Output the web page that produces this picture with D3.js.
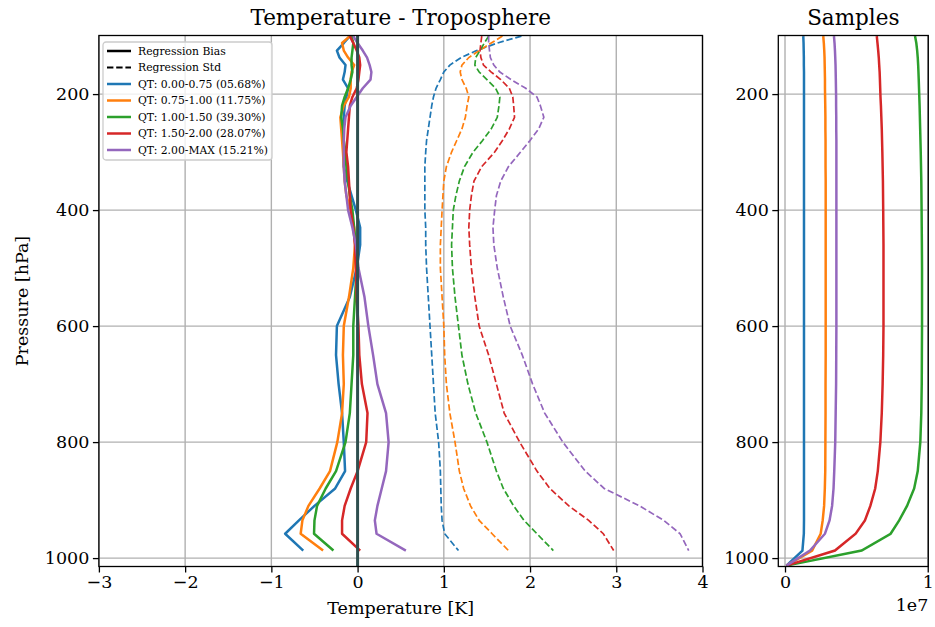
<!DOCTYPE html>
<html>
<head>
<meta charset="utf-8">
<script src="https://cdn.jsdelivr.net/npm/d3@7"></script>
<style>
  body { margin: 0; background: #fff; }
  text { font-family: "DejaVu Serif", serif; fill: #000; }
</style>
</head>
<body>
<div id="chart"></div>
<script>
var w = 935, h = 627;

// pressure levels [hPa]
var levels = [100, 112, 125, 137, 150, 162, 175, 190, 205, 220, 240, 260, 280, 300, 325, 350, 375,
  400, 430, 460, 500, 550, 600, 650, 700, 750, 800, 850, 880, 910, 935, 958, 987];
var sampleLevels = levels.concat([1013]);

var groupLabels = ["QT: 0.00-0.75 (05.68%)", "QT: 0.75-1.00 (11.75%)", "QT: 1.00-1.50 (39.30%)",
  "QT: 1.50-2.00 (28.07%)", "QT: 2.00-MAX (15.21%)"];
var colors = ["#1f77b4", "#ff7f0e", "#2ca02c", "#d62728", "#9467bd"];

var xTicks = [-3, -2, -1, 0, 1, 2, 3, 4];
var pTicks = [200, 400, 600, 800, 1000];
var sTicks = [0, 1];

// regression bias [K]
var bias000_075 = [-0.09, -0.16, -0.24, -0.21, -0.14, -0.15, -0.17, -0.11, -0.13, -0.15, -0.16, -0.16, -0.16, -0.16, -0.16, -0.12, -0.07,
  -0.02, 0.03, 0.03, -0.01, -0.09, -0.24, -0.25, -0.22, -0.18, -0.16, -0.145, -0.26, -0.50, -0.68, -0.84, -0.63];
var bias075_100 = [-0.09, -0.18, -0.16, -0.11, -0.04, -0.07, -0.08, -0.08, -0.10, -0.16, -0.20, -0.19, -0.18, -0.17, -0.16, -0.15, -0.13,
  -0.08, -0.04, -0.03, -0.05, -0.10, -0.16, -0.17, -0.16, -0.18, -0.235, -0.32, -0.44, -0.57, -0.64, -0.66, -0.40];
var bias100_150 = [-0.07, -0.05, -0.06, -0.07, -0.07, -0.06, -0.08, -0.11, -0.15, -0.18, -0.19, -0.17, -0.16, -0.14, -0.13, -0.11, -0.09,
  -0.06, -0.04, -0.02, -0.01, -0.03, -0.05, -0.05, -0.07, -0.09, -0.14, -0.25, -0.37, -0.47, -0.50, -0.505, -0.28];
var bias150_200 = [-0.09, -0.05, -0.01, 0.02, 0.03, 0.02, 0.01, -0.01, -0.06, -0.09, -0.10, -0.11, -0.12, -0.13, -0.11, -0.10, -0.09,
  -0.08, -0.05, -0.03, -0.02, -0.01, 0.01, 0.02, 0.05, 0.115, 0.10, 0.00, -0.08, -0.15, -0.18, -0.18, 0.03];
var bias200_max = [-0.05, 0.00, 0.06, 0.11, 0.14, 0.16, 0.15, 0.06, -0.01, -0.08, -0.14, -0.155, -0.16, -0.16, -0.16, -0.15, -0.13,
  -0.11, -0.06, -0.02, 0.01, 0.08, 0.125, 0.18, 0.23, 0.33, 0.36, 0.33, 0.28, 0.23, 0.20, 0.22, 0.56];

// regression std [K]
var std000_075 = [1.90, 1.62, 1.38, 1.20, 1.07, 1.00, 0.96, 0.91, 0.88, 0.86, 0.84, 0.82, 0.80, 0.79, 0.78, 0.78, 0.78,
  0.78, 0.79, 0.79, 0.80, 0.82, 0.84, 0.86, 0.88, 0.90, 0.94, 0.96, 0.965, 0.97, 0.98, 1.01, 1.17];
var std075_100 = [1.68, 1.55, 1.41, 1.29, 1.21, 1.19, 1.21, 1.26, 1.29, 1.27, 1.25, 1.21, 1.15, 1.09, 1.03, 1.00, 0.99,
  0.98, 0.97, 0.96, 0.96, 0.98, 1.00, 1.01, 1.03, 1.07, 1.13, 1.18, 1.23, 1.31, 1.41, 1.56, 1.75];
var std100_150 = [1.52, 1.47, 1.42, 1.37, 1.36, 1.41, 1.50, 1.60, 1.65, 1.64, 1.62, 1.55, 1.45, 1.34, 1.24, 1.18, 1.14,
  1.11, 1.10, 1.09, 1.10, 1.13, 1.17, 1.21, 1.28, 1.37, 1.50, 1.61, 1.69, 1.81, 1.93, 2.08, 2.27];
var std150_200 = [1.44, 1.43, 1.42, 1.43, 1.46, 1.55, 1.66, 1.76, 1.80, 1.81, 1.82, 1.76, 1.68, 1.59, 1.44, 1.35, 1.32,
  1.30, 1.29, 1.30, 1.32, 1.36, 1.41, 1.52, 1.61, 1.70, 1.88, 2.08, 2.23, 2.45, 2.68, 2.85, 2.97];
var std200_max = [1.52, 1.52, 1.53, 1.54, 1.58, 1.65, 1.78, 1.95, 2.08, 2.12, 2.16, 2.10, 2.00, 1.89, 1.75, 1.66, 1.61,
  1.59, 1.57, 1.58, 1.62, 1.69, 1.77, 1.91, 2.03, 2.17, 2.38, 2.64, 2.86, 3.27, 3.55, 3.74, 3.84];

// samples per level [1e7]
var samp000_075 = [0.128, 0.130, 0.131, 0.132, 0.132, 0.133, 0.133, 0.133, 0.133, 0.133, 0.133, 0.133, 0.133, 0.133, 0.133, 0.133, 0.133,
  0.133, 0.133, 0.133, 0.133, 0.133, 0.133, 0.133, 0.133, 0.133, 0.133, 0.133, 0.133, 0.133, 0.133, 0.132, 0.122, 0.010];
var samp075_100 = [0.268, 0.272, 0.275, 0.277, 0.278, 0.279, 0.280, 0.280, 0.281, 0.282, 0.283, 0.283, 0.284, 0.284, 0.284, 0.285, 0.285,
  0.285, 0.285, 0.285, 0.285, 0.285, 0.285, 0.285, 0.284, 0.284, 0.283, 0.282, 0.279, 0.274, 0.264, 0.250, 0.190, 0.010];
var samp100_150 = [0.911, 0.920, 0.926, 0.930, 0.933, 0.935, 0.937, 0.939, 0.941, 0.943, 0.945, 0.947, 0.949, 0.951, 0.953, 0.955, 0.956,
  0.957, 0.958, 0.959, 0.960, 0.960, 0.960, 0.959, 0.958, 0.955, 0.948, 0.930, 0.905, 0.855, 0.800, 0.740, 0.537, 0.010];
var samp150_200 = [0.643, 0.648, 0.653, 0.657, 0.660, 0.663, 0.665, 0.667, 0.669, 0.672, 0.675, 0.678, 0.680, 0.682, 0.684, 0.686, 0.687,
  0.688, 0.689, 0.690, 0.690, 0.690, 0.690, 0.688, 0.684, 0.678, 0.668, 0.650, 0.632, 0.598, 0.560, 0.495, 0.350, 0.010];
var samp200_max = [0.343, 0.347, 0.350, 0.352, 0.354, 0.355, 0.356, 0.357, 0.358, 0.358, 0.359, 0.359, 0.360, 0.360, 0.360, 0.360, 0.360,
  0.360, 0.360, 0.360, 0.360, 0.360, 0.360, 0.359, 0.358, 0.355, 0.352, 0.345, 0.340, 0.330, 0.312, 0.280, 0.175, 0.010];

var biasSeries = [bias000_075, bias075_100, bias100_150, bias150_200, bias200_max];
var stdSeries = [std000_075, std075_100, std100_150, std150_200, std200_max];
var sampSeries = [samp000_075, samp075_100, samp100_150, samp150_200, samp200_max];

// panel boxes
var L = {x0: 98.9, x1: 702.5}, R = {x0: 778.3, x1: 928.3};
var plotTop = 35.5, plotBottom = 566.5;
var dash = "6.4,2.8";

var xScale = d3.scaleLinear().domain([-3, 4]).range([L.x0, L.x1]);
var yScale = d3.scaleLinear().domain([99, 1014.5]).range([plotTop, plotBottom]);
var sScale = d3.scaleLinear().domain([-0.047, 1.004]).range([R.x0, R.x1]);

var svg = d3.select("#chart").append("svg")
  .attr("width", w)
  .attr("height", h);

var defs = svg.append("defs");
defs.append("clipPath").attr("id", "clipL").append("rect")
  .attr("x", L.x0).attr("y", plotTop).attr("width", L.x1 - L.x0).attr("height", plotBottom - plotTop);
defs.append("clipPath").attr("id", "clipR").append("rect")
  .attr("x", R.x0).attr("y", plotTop).attr("width", R.x1 - R.x0).attr("height", plotBottom - plotTop);

var minus = function(d) { return String(d).replace("-", "\u2212"); };
var intFmt = d3.format("d");

function grid(xs, xvals, box) {
  var g = svg.append("g").attr("stroke", "#b0b0b0").attr("stroke-width", 1.4);
  g.selectAll(".gx").data(xvals).enter().append("line")
    .attr("x1", function(d) { return xs(d); }).attr("x2", function(d) { return xs(d); })
    .attr("y1", plotTop).attr("y2", plotBottom);
  g.selectAll(".gy").data(pTicks).enter().append("line")
    .attr("x1", box.x0).attr("x2", box.x1)
    .attr("y1", function(d) { return yScale(d); }).attr("y2", function(d) { return yScale(d); });
}
grid(xScale, xTicks, L);
grid(sScale, sTicks, R);

var line = d3.line()
  .x(function(d) { return xScale(d[0]); })
  .y(function(d) { return yScale(d[1]); });

var sLine = d3.line()
  .x(function(d) { return sScale(d[0]); })
  .y(function(d) { return yScale(d[1]); });

var plotL = svg.append("g").attr("clip-path", "url(#clipL)");
for (var i = 0; i < 5; i++) {
  plotL.append("path")
    .datum(biasSeries[i].map(function(v, k) { return [v, levels[k]]; }))
    .attr("d", line)
    .attr("fill", "none")
    .attr("stroke", colors[i])
    .attr("stroke-width", 2.5)
    .attr("stroke-linejoin", "round");
  plotL.append("path")
    .datum(stdSeries[i].map(function(v, k) { return [v, levels[k]]; }))
    .attr("d", line)
    .attr("fill", "none")
    .attr("stroke", colors[i])
    .attr("stroke-width", 1.7)
    .attr("stroke-dasharray", dash);
}
// zero line
plotL.append("line")
  .attr("x1", xScale(0)).attr("x2", xScale(0))
  .attr("y1", plotTop).attr("y2", plotBottom)
  .attr("stroke", "#2f4f4f")
  .attr("stroke-width", 3);

var plotR = svg.append("g").attr("clip-path", "url(#clipR)");
for (var j = 0; j < 5; j++) {
  plotR.append("path")
    .datum(sampSeries[j].map(function(v, k) { return [v, sampleLevels[k]]; }))
    .attr("d", sLine)
    .attr("fill", "none")
    .attr("stroke", colors[j])
    .attr("stroke-width", 2.5);
}

// axes
function styleAxis(g) {
  g.select(".domain").remove();
  g.selectAll(".tick line").attr("stroke", "#000").attr("stroke-width", 1.3);
  g.selectAll(".tick text").attr("font-size", 17.5).attr("font-family", "DejaVu Serif").attr("fill", "#000");
}

svg.append("g")
  .attr("transform", "translate(0," + plotBottom + ")")
  .call(d3.axisBottom(xScale).tickValues(xTicks).tickSize(6).tickPadding(3.5).tickFormat(minus))
  .call(styleAxis);
svg.append("g")
  .attr("transform", "translate(" + L.x0 + ",0)")
  .call(d3.axisLeft(yScale).tickValues(pTicks).tickSize(6).tickPadding(3.5).tickFormat(intFmt))
  .call(styleAxis);
svg.append("g")
  .attr("transform", "translate(0," + plotBottom + ")")
  .call(d3.axisBottom(sScale).tickValues(sTicks).tickSize(6).tickPadding(3.5).tickFormat(intFmt))
  .call(styleAxis);
svg.append("g")
  .attr("transform", "translate(" + R.x0 + ",0)")
  .call(d3.axisLeft(yScale).tickValues(pTicks).tickSize(6).tickPadding(3.5).tickFormat(intFmt))
  .call(styleAxis);

// frames
[L, R].forEach(function(b) {
  svg.append("rect")
    .attr("x", b.x0).attr("y", plotTop)
    .attr("width", b.x1 - b.x0).attr("height", plotBottom - plotTop)
    .attr("fill", "none").attr("stroke", "#000").attr("stroke-width", 1.3);
});

// titles and labels
svg.append("text").attr("x", (L.x0 + L.x1) / 2).attr("y", 25).attr("text-anchor", "middle")
  .attr("font-size", 21.5).text("Temperature - Troposphere");
svg.append("text").attr("x", (R.x0 + R.x1) / 2).attr("y", 25).attr("text-anchor", "middle")
  .attr("font-size", 21.5).text("Samples");
svg.append("text").attr("x", (L.x0 + L.x1) / 2).attr("y", 614).attr("text-anchor", "middle")
  .attr("font-size", 17.5).text("Temperature [K]");
svg.append("text").attr("transform", "translate(28," + ((plotTop + plotBottom) / 2) + ") rotate(-90)")
  .attr("text-anchor", "middle").attr("font-size", 17.5).text("Pressure [hPa]");
svg.append("text").attr("x", R.x1).attr("y", 611).attr("text-anchor", "end")
  .attr("font-size", 17.5).text("1e7");

// legend
var legendItems = [{label: "Regression Bias", color: "#000", dash: null},
  {label: "Regression Std", color: "#000", dash: dash}].concat(
  groupLabels.map(function(d, i) { return {label: d, color: colors[i], dash: null}; }));

var lg = svg.append("g").attr("transform", "translate(103,42)");
lg.append("rect").attr("width", 169).attr("height", 118).attr("rx", 3)
  .attr("fill", "#fff").attr("fill-opacity", 0.8).attr("stroke", "#cccccc").attr("stroke-width", 1.3);
var row = lg.selectAll(".row").data(legendItems).enter().append("g")
  .attr("transform", function(d, i) { return "translate(0," + (9 + i * 16.5) + ")"; });
row.append("line").attr("x1", 4).attr("x2", 28)
  .attr("stroke", function(d) { return d.color; })
  .attr("stroke-width", function(d) { return d.dash ? 2.2 : 2.5; })
  .attr("stroke-dasharray", function(d) { return d.dash; });
row.append("text").attr("x", 35).attr("y", 3.8).attr("font-size", 10.8)
  .text(function(d) { return d.label; });
</script>
</body>
</html>
